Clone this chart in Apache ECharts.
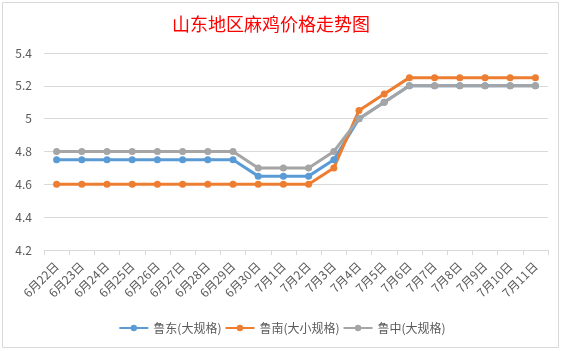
<!DOCTYPE html>
<html>
<head>
<meta charset="utf-8">
<script src="https://cdn.jsdelivr.net/npm/echarts@6/dist/echarts.min.js"></script>
<style>
  html, body { margin: 0; padding: 0; background: #fff; }
  #chart { width: 564px; height: 351px; }
</style>
</head>
<body>
<div id="chart"></div>
<script>
  // 日期
  const dates = [
    '6月22日', '6月23日', '6月24日', '6月25日', '6月26日', '6月27日', '6月28日',
    '6月29日', '6月30日', '7月1日', '7月2日', '7月3日', '7月4日', '7月5日',
    '7月6日', '7月7日', '7月8日', '7月9日', '7月10日', '7月11日'
  ];
  const ludong = [4.75, 4.75, 4.75, 4.75, 4.75, 4.75, 4.75, 4.75, 4.65, 4.65, 4.65, 4.75, 5.0, 5.1, 5.2, 5.2, 5.2, 5.2, 5.2, 5.2];
  const lunan = [4.6, 4.6, 4.6, 4.6, 4.6, 4.6, 4.6, 4.6, 4.6, 4.6, 4.6, 4.7, 5.05, 5.15, 5.25, 5.25, 5.25, 5.25, 5.25, 5.25];
  const luzhong = [4.8, 4.8, 4.8, 4.8, 4.8, 4.8, 4.8, 4.8, 4.7, 4.7, 4.7, 4.8, 5.0, 5.1, 5.2, 5.2, 5.2, 5.2, 5.2, 5.2];
  const seriesNames = ['鲁东(大规格)', '鲁南(大小规格)', '鲁中(大规格)'];
  const colors = ['#5B9BD5', '#ED7D31', '#A5A5A5'];

  const font = '"Noto Sans CJK SC", "Noto Sans", sans-serif';

  const chart = echarts.init(document.getElementById('chart'));

  const makeSeries = (name, data) => ({
    name: name,
    type: 'line',
    data: data,
    symbol: 'circle',
    symbolSize: 7,
    lineStyle: { width: 3 },
    emphasis: { disabled: true }
  });

  chart.setOption({
    animation: false,
    color: colors,
    textStyle: { fontFamily: font },
    graphic: [
      {
        type: 'rect',
        shape: { x: 2.5, y: 2.5, width: 556, height: 345 },
        style: { fill: 'none', stroke: '#d9d9d9', lineWidth: 1 },
        silent: true
      }
    ],
    title: {
      text: '山东地区麻鸡价格走势图',
      left: 167,
      top: 10,
      textStyle: { color: '#ff0000', fontSize: 18, fontWeight: 'normal', fontFamily: font }
    },
    legend: {
      data: seriesNames,
      left: 'center',
      top: 317,
      itemWidth: 29,
      itemHeight: 8,
      itemGap: 3,
      textStyle: { color: '#595959', fontSize: 12, fontFamily: font }
    },
    grid: { left: 44, right: 16, top: 53, bottom: 101 },
    xAxis: {
      type: 'category',
      data: dates,
      boundaryGap: true,
      axisLine: { lineStyle: { color: '#d9d9d9' } },
      axisTick: { show: true, length: 5, lineStyle: { color: '#d9d9d9' } },
      axisLabel: {
        rotate: 45,
        interval: 0,
        margin: 14,
        color: '#595959',
        fontSize: 12,
        fontFamily: font
      }
    },
    yAxis: {
      type: 'value',
      min: 4.2,
      max: 5.4,
      interval: 0.2,
      axisLine: { show: false },
      axisTick: { show: false },
      splitLine: { lineStyle: { color: '#d9d9d9' } },
      axisLabel: {
        color: '#595959',
        fontSize: 12,
        margin: 12,
        fontFamily: font,
        formatter: v => String(Math.round(v * 10) / 10)
      }
    },
    series: [
      makeSeries(seriesNames[0], ludong),
      makeSeries(seriesNames[1], lunan),
      makeSeries(seriesNames[2], luzhong)
    ]
  });
</script>
</body>
</html>
